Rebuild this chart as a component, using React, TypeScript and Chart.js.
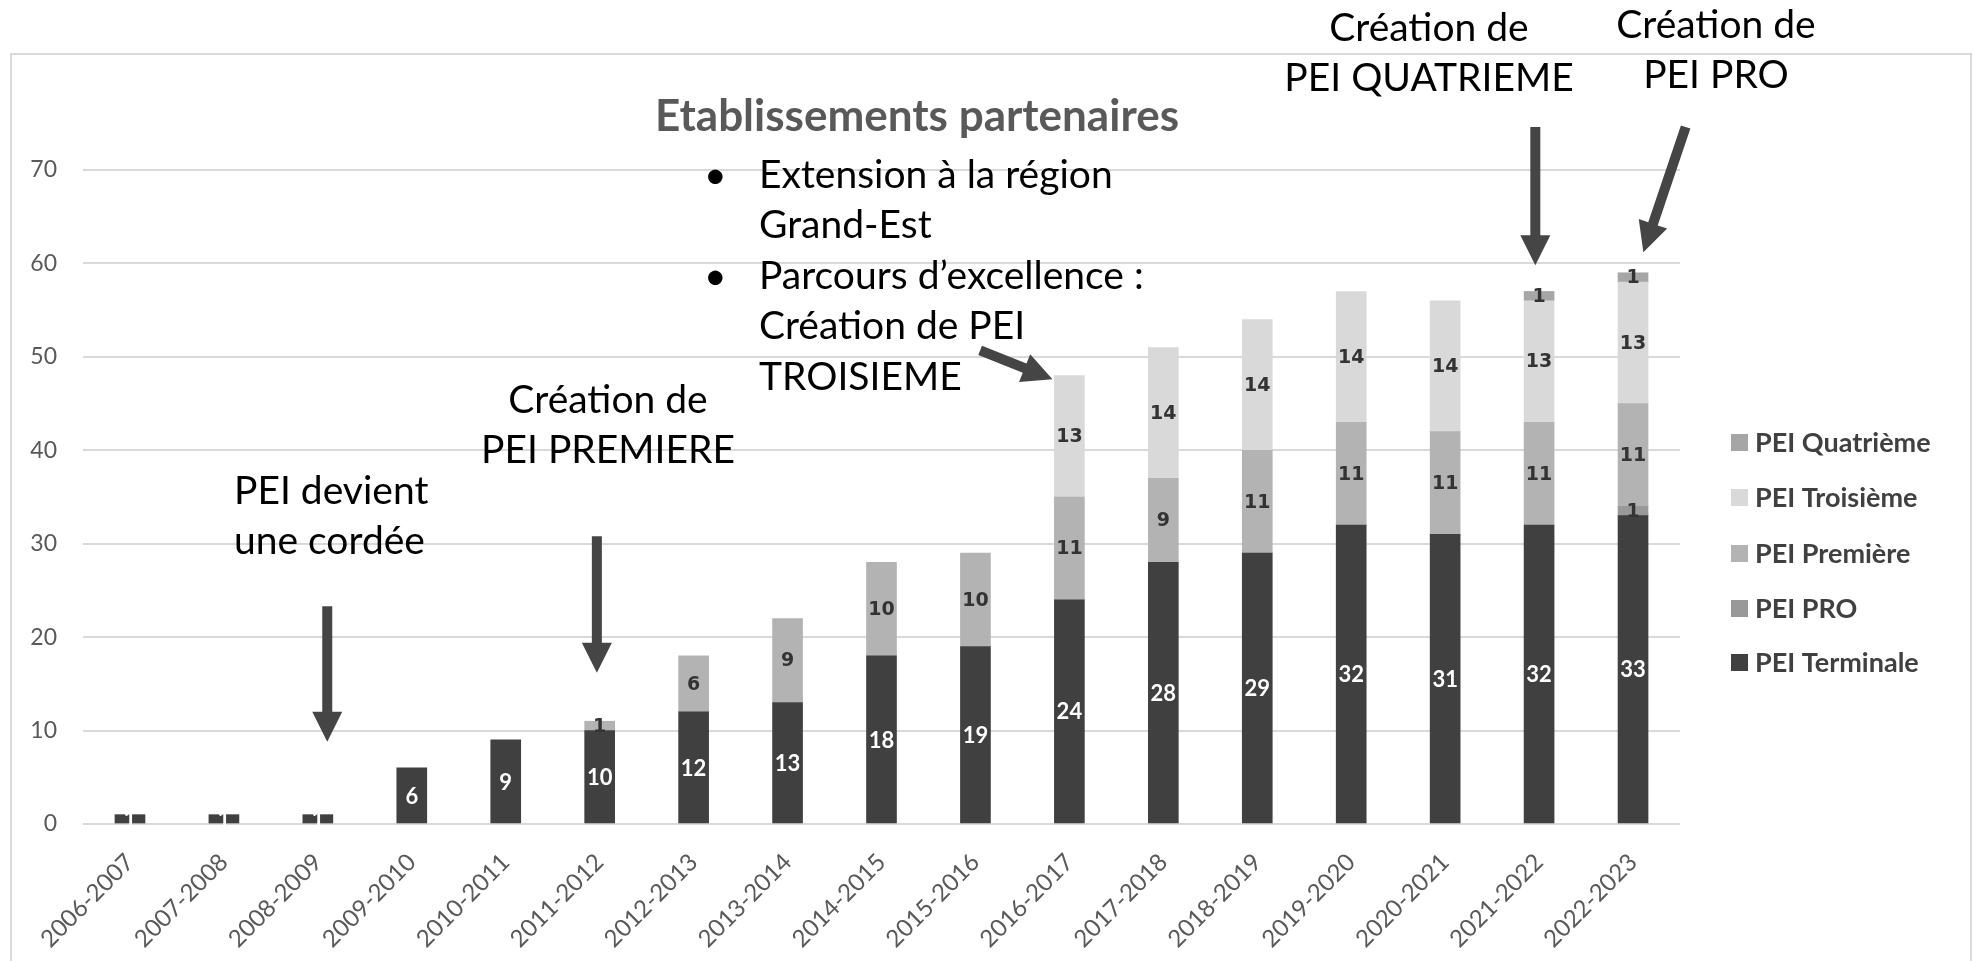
import { useEffect, useRef } from "react";
import { Chart, registerables } from "chart.js";

Chart.register(...registerables);

const categories = [
  "2006-2007", "2007-2008", "2008-2009", "2009-2010", "2010-2011", "2011-2012",
  "2012-2013", "2013-2014", "2014-2015", "2015-2016", "2016-2017", "2017-2018",
  "2018-2019", "2019-2020", "2020-2021", "2021-2022", "2022-2023",
];
const peiTerminale = [1, 1, 1, 6, 9, 10, 12, 13, 18, 19, 24, 28, 29, 32, 31, 32, 33];
const peiPro = [null, null, null, null, null, null, null, null, null, null, null, null, null, null, null, null, 1];
const peiPremiere = [null, null, null, null, null, 1, 6, 9, 10, 10, 11, 9, 11, 11, 11, 11, 11];
const peiTroisieme = [null, null, null, null, null, null, null, null, null, null, 13, 14, 14, 14, 14, 13, 13];
const peiQuatrieme = [null, null, null, null, null, null, null, null, null, null, null, null, null, null, null, 1, 1];

const seriesNames = ["PEI Terminale", "PEI PRO", "PEI Première", "PEI Troisième", "PEI Quatrième"];
const seriesColors = ["#404040", "#999999", "#b3b3b3", "#d9d9d9", "#a6a6a6"];
const yMax = 70;
const yStep = 10;
const chartTitle = "Etablissements partenaires";

// Annotation texts
const notes = [
  { lines: ["PEI devient", "une cordée"], x: 234, y: 491, align: "left" },
  { lines: ["Création de", "PEI PREMIERE"], x: 608, y: 400, align: "center" },
  { lines: ["Création de", "PEI QUATRIEME"], x: 1429, y: 28, align: "center" },
  { lines: ["Création de", "PEI PRO"], x: 1716, y: 25, align: "center" },
];
const bulletLines = [
  { text: "Extension à la région", bullet: true },
  { text: "Grand-Est", bullet: false },
  { text: "Parcours d’excellence :", bullet: true },
  { text: "Création de PEI", bullet: false },
  { text: "TROISIEME", bullet: false },
];
// Arrows anchored in data space: [category index, value]
const arrows = [
  { from: [2.1, 23.3], to: [2.1, 8.8] },
  { from: [4.97, 30.8], to: [4.97, 16.2] },
  { from: [9.05, 50.7], to: [9.82, 47.6] },
  { from: [14.96, 74.6], to: [14.96, 59.8] },
  { from: [16.56, 74.6], to: [16.11, 61.2] },
];

const FONT = "Lato, 'Noto Sans', sans-serif";

function drawArrow(ctx: CanvasRenderingContext2D, x1: number, y1: number, x2: number, y2: number) {
  const shaft = 10;
  const headW = 30;
  const headL = 30;
  const dx = x2 - x1;
  const dy = y2 - y1;
  const len = Math.sqrt(dx * dx + dy * dy);
  const ux = dx / len;
  const uy = dy / len;
  const px = -uy;
  const py = ux;
  const bx = x2 - ux * headL;
  const by = y2 - uy * headL;
  ctx.beginPath();
  ctx.moveTo(x1 + px * shaft / 2, y1 + py * shaft / 2);
  ctx.lineTo(bx + px * shaft / 2, by + py * shaft / 2);
  ctx.lineTo(bx + px * headW / 2, by + py * headW / 2);
  ctx.lineTo(x2, y2);
  ctx.lineTo(bx - px * headW / 2, by - py * headW / 2);
  ctx.lineTo(bx - px * shaft / 2, by - py * shaft / 2);
  ctx.lineTo(x1 - px * shaft / 2, y1 - py * shaft / 2);
  ctx.closePath();
  ctx.fillStyle = "#454545";
  ctx.fill();
}

const decorPlugin = {
  id: "decor",
  beforeDraw(chart: any) {
    const ctx = chart.ctx;
    ctx.save();
    ctx.fillStyle = "#ffffff";
    ctx.fillRect(0, 0, chart.width, chart.height);
    ctx.strokeStyle = "#d9d9d9";
    ctx.lineWidth = 2;
    ctx.strokeRect(11, 54, 1960, 930);
    ctx.restore();
  },
  afterDatasetsDraw(chart: any) {
    const ctx = chart.ctx;
    ctx.save();
    ctx.textAlign = "center";
    ctx.textBaseline = "middle";
    chart.data.datasets.forEach((ds: any, di: number) => {
      const meta = chart.getDatasetMeta(di);
      meta.data.forEach((el: any, i: number) => {
        const v = ds.data[i];
        if (v === null || v === undefined) return;
        const { x, y, base } = el.getProps(["x", "y", "base"], true);
        if (di === 0) {
          ctx.fillStyle = "#ffffff";
          ctx.font = `bold 22px ${FONT}`;
        } else {
          ctx.fillStyle = "#333333";
          ctx.font = "bold 19px 'DejaVu Sans', sans-serif";
        }
        ctx.fillText(String(v), x, (y + base) / 2 + 1);
      });
    });
    ctx.restore();
  },
  afterDraw(chart: any) {
    const ctx = chart.ctx;
    const xs = chart.scales.x;
    const ys = chart.scales.y;
    ctx.save();
    // title
    ctx.fillStyle = "#595959";
    ctx.font = `bold 44px ${FONT}`;
    ctx.textAlign = "center";
    ctx.textBaseline = "middle";
    ctx.fillText(chartTitle, 917, 117);

    // legend (reverse order)
    const legendY = [442, 497, 553, 608, 662];
    for (let k = 0; k < 5; k++) {
      const si = 4 - k;
      ctx.fillStyle = seriesColors[si];
      ctx.fillRect(1731, legendY[k] - 8, 17, 17);
      ctx.fillStyle = "#404040";
      ctx.font = `bold 27px ${FONT}`;
      ctx.textAlign = "left";
      ctx.textBaseline = "middle";
      ctx.fillText(seriesNames[si], 1755, legendY[k] + 1);
    }

    // notes
    ctx.fillStyle = "#000000";
    ctx.font = `39px ${FONT}`;
    ctx.textBaseline = "middle";
    notes.forEach((n) => {
      ctx.textAlign = n.align as CanvasTextAlign;
      n.lines.forEach((l, i) => ctx.fillText(l, n.x, n.y + i * 50));
    });
    ctx.textAlign = "left";
    bulletLines.forEach((b, i) => {
      const yy = 175 + i * 50.5;
      if (b.bullet) ctx.fillText("•", 704, yy);
      ctx.fillText(b.text, 759, yy);
    });

    // arrows
    arrows.forEach((a) => {
      drawArrow(
        ctx,
        xs.getPixelForValue(a.from[0]),
        ys.getPixelForValue(a.from[1]),
        xs.getPixelForValue(a.to[0]),
        ys.getPixelForValue(a.to[1])
      );
    });
    ctx.restore();
  },
};

export default function App() {
  const canvasRef = useRef<HTMLCanvasElement | null>(null);

  useEffect(() => {
    const canvas = canvasRef.current;
    if (!canvas) return;
    const datasetsData = [peiTerminale, peiPro, peiPremiere, peiTroisieme, peiQuatrieme];
    const chart = new Chart(canvas, {
      type: "bar",
      data: {
        labels: categories,
        datasets: datasetsData.map((d, i) => ({
          label: seriesNames[i],
          data: d,
          backgroundColor: seriesColors[i],
          borderWidth: 0,
          barThickness: 30,
        })),
      },
      options: {
        responsive: false,
        animation: false,
        layout: { padding: { left: 0, top: 170, right: 293, bottom: 0 } },
        plugins: {
          legend: { display: false },
          title: { display: false },
          tooltip: { enabled: false },
        },
        scales: {
          x: {
            stacked: true,
            grid: { display: false },
            border: { display: false },
            ticks: {
              color: "#595959",
              font: { family: FONT, size: 24 },
              maxRotation: 45,
              minRotation: 45,
              padding: 16,
              autoSkip: false,
            },
            afterFit: (scale: any) => {
              scale.height = 137;
            },
          },
          y: {
            stacked: true,
            min: 0,
            max: yMax,
            grid: { color: "#d9d9d9", lineWidth: 2, drawTicks: false },
            border: { display: false },
            ticks: {
              stepSize: yStep,
              color: "#595959",
              font: { family: FONT, size: 23 },
              padding: 26,
            },
            afterFit: (scale: any) => {
              scale.width = 83;
            },
          },
        },
      },
      plugins: [decorPlugin],
    });
    return () => chart.destroy();
  }, []);

  return (
    <div style={{ position: "absolute", left: 0, top: 0, width: 1973, height: 961, background: "#fff" }}>
      <canvas ref={canvasRef} width={1973} height={961} style={{ display: "block" }} />
    </div>
  );
}
